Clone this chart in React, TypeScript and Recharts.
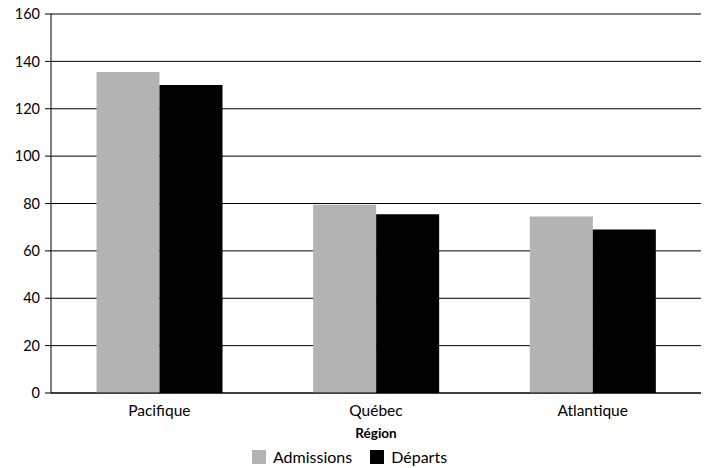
import { BarChart, Bar, XAxis, YAxis, CartesianGrid, Legend } from "recharts";

const regions = ["Pacifique", "Québec", "Atlantique"];
const admissions = [135.5, 79.5, 74.5];
const departs = [130, 75.5, 69];
const yTicks = [0, 20, 40, 60, 80, 100, 120, 140, 160];

const data = regions.map((r, i) => ({ region: r, Admissions: admissions[i], "Départs": departs[i] }));

const font = "Lato, 'Open Sans', sans-serif";

function LegendBox(props: any) {
  const items = props.payload || [];
  return (
    <div style={{ display: "flex", justifyContent: "center", alignItems: "center", height: 23, fontFamily: font, fontSize: 16, color: "#000", paddingLeft: 16 }}>
      {items.map((p: any) => (
        <div key={p.value} style={{ display: "flex", alignItems: "center", marginRight: 18 }}>
          <span style={{ display: "inline-block", width: 14, height: 14, background: p.color, marginRight: 7 }} />
          <span>{p.value}</span>
        </div>
      ))}
    </div>
  );
}

export default function App() {
  return (
    <div style={{ position: "absolute", left: 0, top: 0, width: 707, height: 468, background: "#fff", fontFamily: font }}>
      <BarChart
        width={707}
        height={468}
        data={data}
        margin={{ top: 14, right: 6, bottom: 0, left: 0 }}
        barCategoryGap="21%"
        barGap={0}
      >
        <CartesianGrid vertical={false} stroke="#000" strokeWidth={1} />
        <XAxis
          dataKey="region"
          height={52}
          tickLine={false}
          axisLine={{ stroke: "#000" }}
          tick={{ fill: "#000", fontSize: 15.5, fontFamily: font }}
          tickMargin={6}
          label={{ value: "Région", position: "insideBottom", offset: 7, fill: "#000", fontSize: 13.5, fontWeight: 700, fontFamily: font }}
        />
        <YAxis
          width={51}
          domain={[0, 160]}
          ticks={yTicks}
          interval={0}
          tickSize={6}
          tickMargin={5}
          axisLine={{ stroke: "#000" }}
          tickLine={{ stroke: "#000" }}
          tick={{ fill: "#000", fontSize: 14.5, fontFamily: font }}
        />
        <YAxis
          yAxisId="right"
          orientation="right"
          width={0}
          domain={[0, 160]}
          tick={false}
          tickLine={false}
          axisLine={{ stroke: "#000" }}
        />
        <Legend verticalAlign="bottom" content={<LegendBox />} />
        <Bar dataKey="Admissions" fill="#b3b3b3" isAnimationActive={false} />
        <Bar dataKey="Départs" fill="#000" isAnimationActive={false} />
      </BarChart>
    </div>
  );
}
